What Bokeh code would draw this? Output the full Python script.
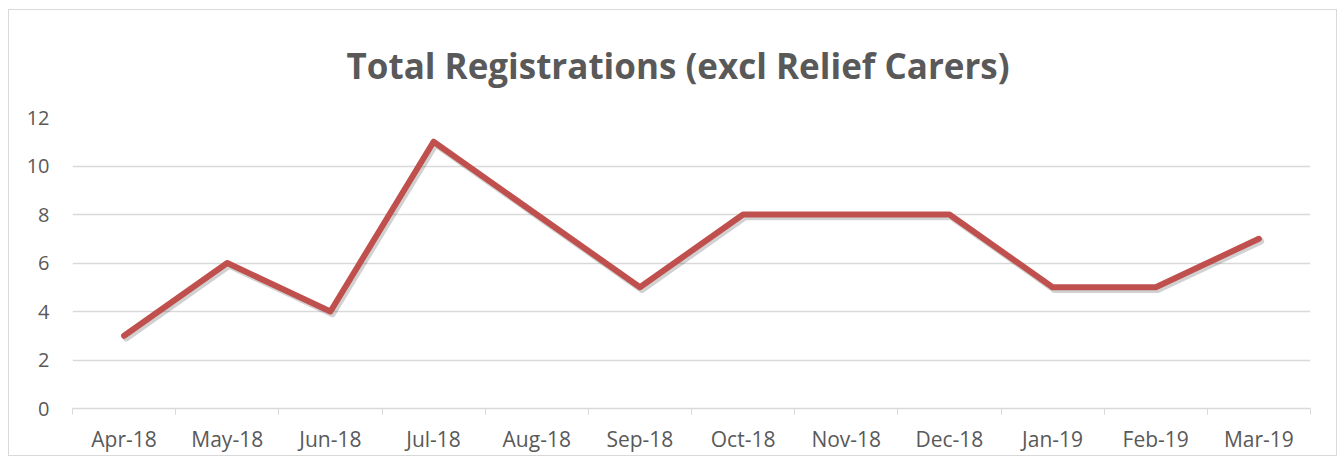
from bokeh.plotting import figure
from bokeh.models import FixedTicker, Range1d
from bokeh.embed import file_html
from bokeh.resources import INLINE

months = ["Apr-18", "May-18", "Jun-18", "Jul-18", "Aug-18", "Sep-18",
          "Oct-18", "Nov-18", "Dec-18", "Jan-19", "Feb-19", "Mar-19"]
registrations = [3, 6, 4, 11, 8, 5, 8, 8, 8, 5, 5, 7]
y_ticks = [0, 2, 4, 6, 8, 10, 12]
title_text = "Total Registrations (excl Relief Carers)"

n = len(months)
xs = [i + 0.5 for i in range(n)]

FRAME_H = 291
FRAME_W = 1238
Y_MAX = 12

p = figure(frame_width=FRAME_W, frame_height=FRAME_H,
           x_range=Range1d(0, n), y_range=Range1d(0, Y_MAX),
           output_backend="svg", toolbar_location=None,
           min_border_left=63, min_border_right=26,
           min_border_top=107, min_border_bottom=40,
           title=title_text)
p.margin = (9, 0, 0, 8)
p.styles = {"border": "1px solid #d9d9d9"}
p.outline_line_color = None
p.background_fill_color = "white"
p.border_fill_color = "white"

p.title.align = "left"
p.title.offset = 274
p.title.standoff = 58
p.title.text_font = "Open Sans"
p.title.text_font_style = "bold"
p.title.text_font_size = "35px"
p.title.text_color = "#595959"

# shadow via shifted ranges (about 2px right/down)
dx = 2 * n / FRAME_W
dy = 2.5 * Y_MAX / FRAME_H
p.extra_x_ranges = {"sh": Range1d(-dx, n - dx)}
p.extra_y_ranges = {"sh": Range1d(dy, Y_MAX + dy)}
p.line(xs, registrations, x_range_name="sh", y_range_name="sh",
       line_color="black", line_alpha=0.18, line_width=6.5,
       line_cap="round", line_join="round")
p.line(xs, registrations, line_color="#C0504D", line_width=6,
       line_cap="round", line_join="round")

# axes
p.xaxis.ticker = FixedTicker(ticks=xs, minor_ticks=list(range(n + 1)))
p.xaxis.major_label_overrides = {x: m for x, m in zip(xs, months)}
p.xaxis.major_tick_line_color = None
p.xaxis.minor_tick_line_color = "#d9d9d9"
p.xaxis.minor_tick_in = 0
p.xaxis.minor_tick_out = 6
p.xaxis.axis_line_color = "#d9d9d9"
p.xaxis.axis_line_width = 1.5
p.xaxis.major_label_standoff = 10
p.xaxis.major_label_text_font = "Open Sans"
p.xaxis.major_label_text_font_size = "21px"
p.xaxis.major_label_text_color = "#595959"

p.yaxis.ticker = FixedTicker(ticks=y_ticks)
p.yaxis.axis_line_color = None
p.yaxis.major_tick_line_color = None
p.yaxis.minor_tick_line_color = None
p.yaxis.major_label_standoff = 17
p.yaxis.major_label_text_font = "Open Sans"
p.yaxis.major_label_text_font_size = "20px"
p.yaxis.major_label_text_color = "#595959"

p.xgrid.grid_line_color = None
p.ygrid.ticker = FixedTicker(ticks=y_ticks)
p.ygrid.grid_line_color = "#d9d9d9"
p.ygrid.grid_line_width = 1.5

open("out.html", "w").write(file_html(p, INLINE))
